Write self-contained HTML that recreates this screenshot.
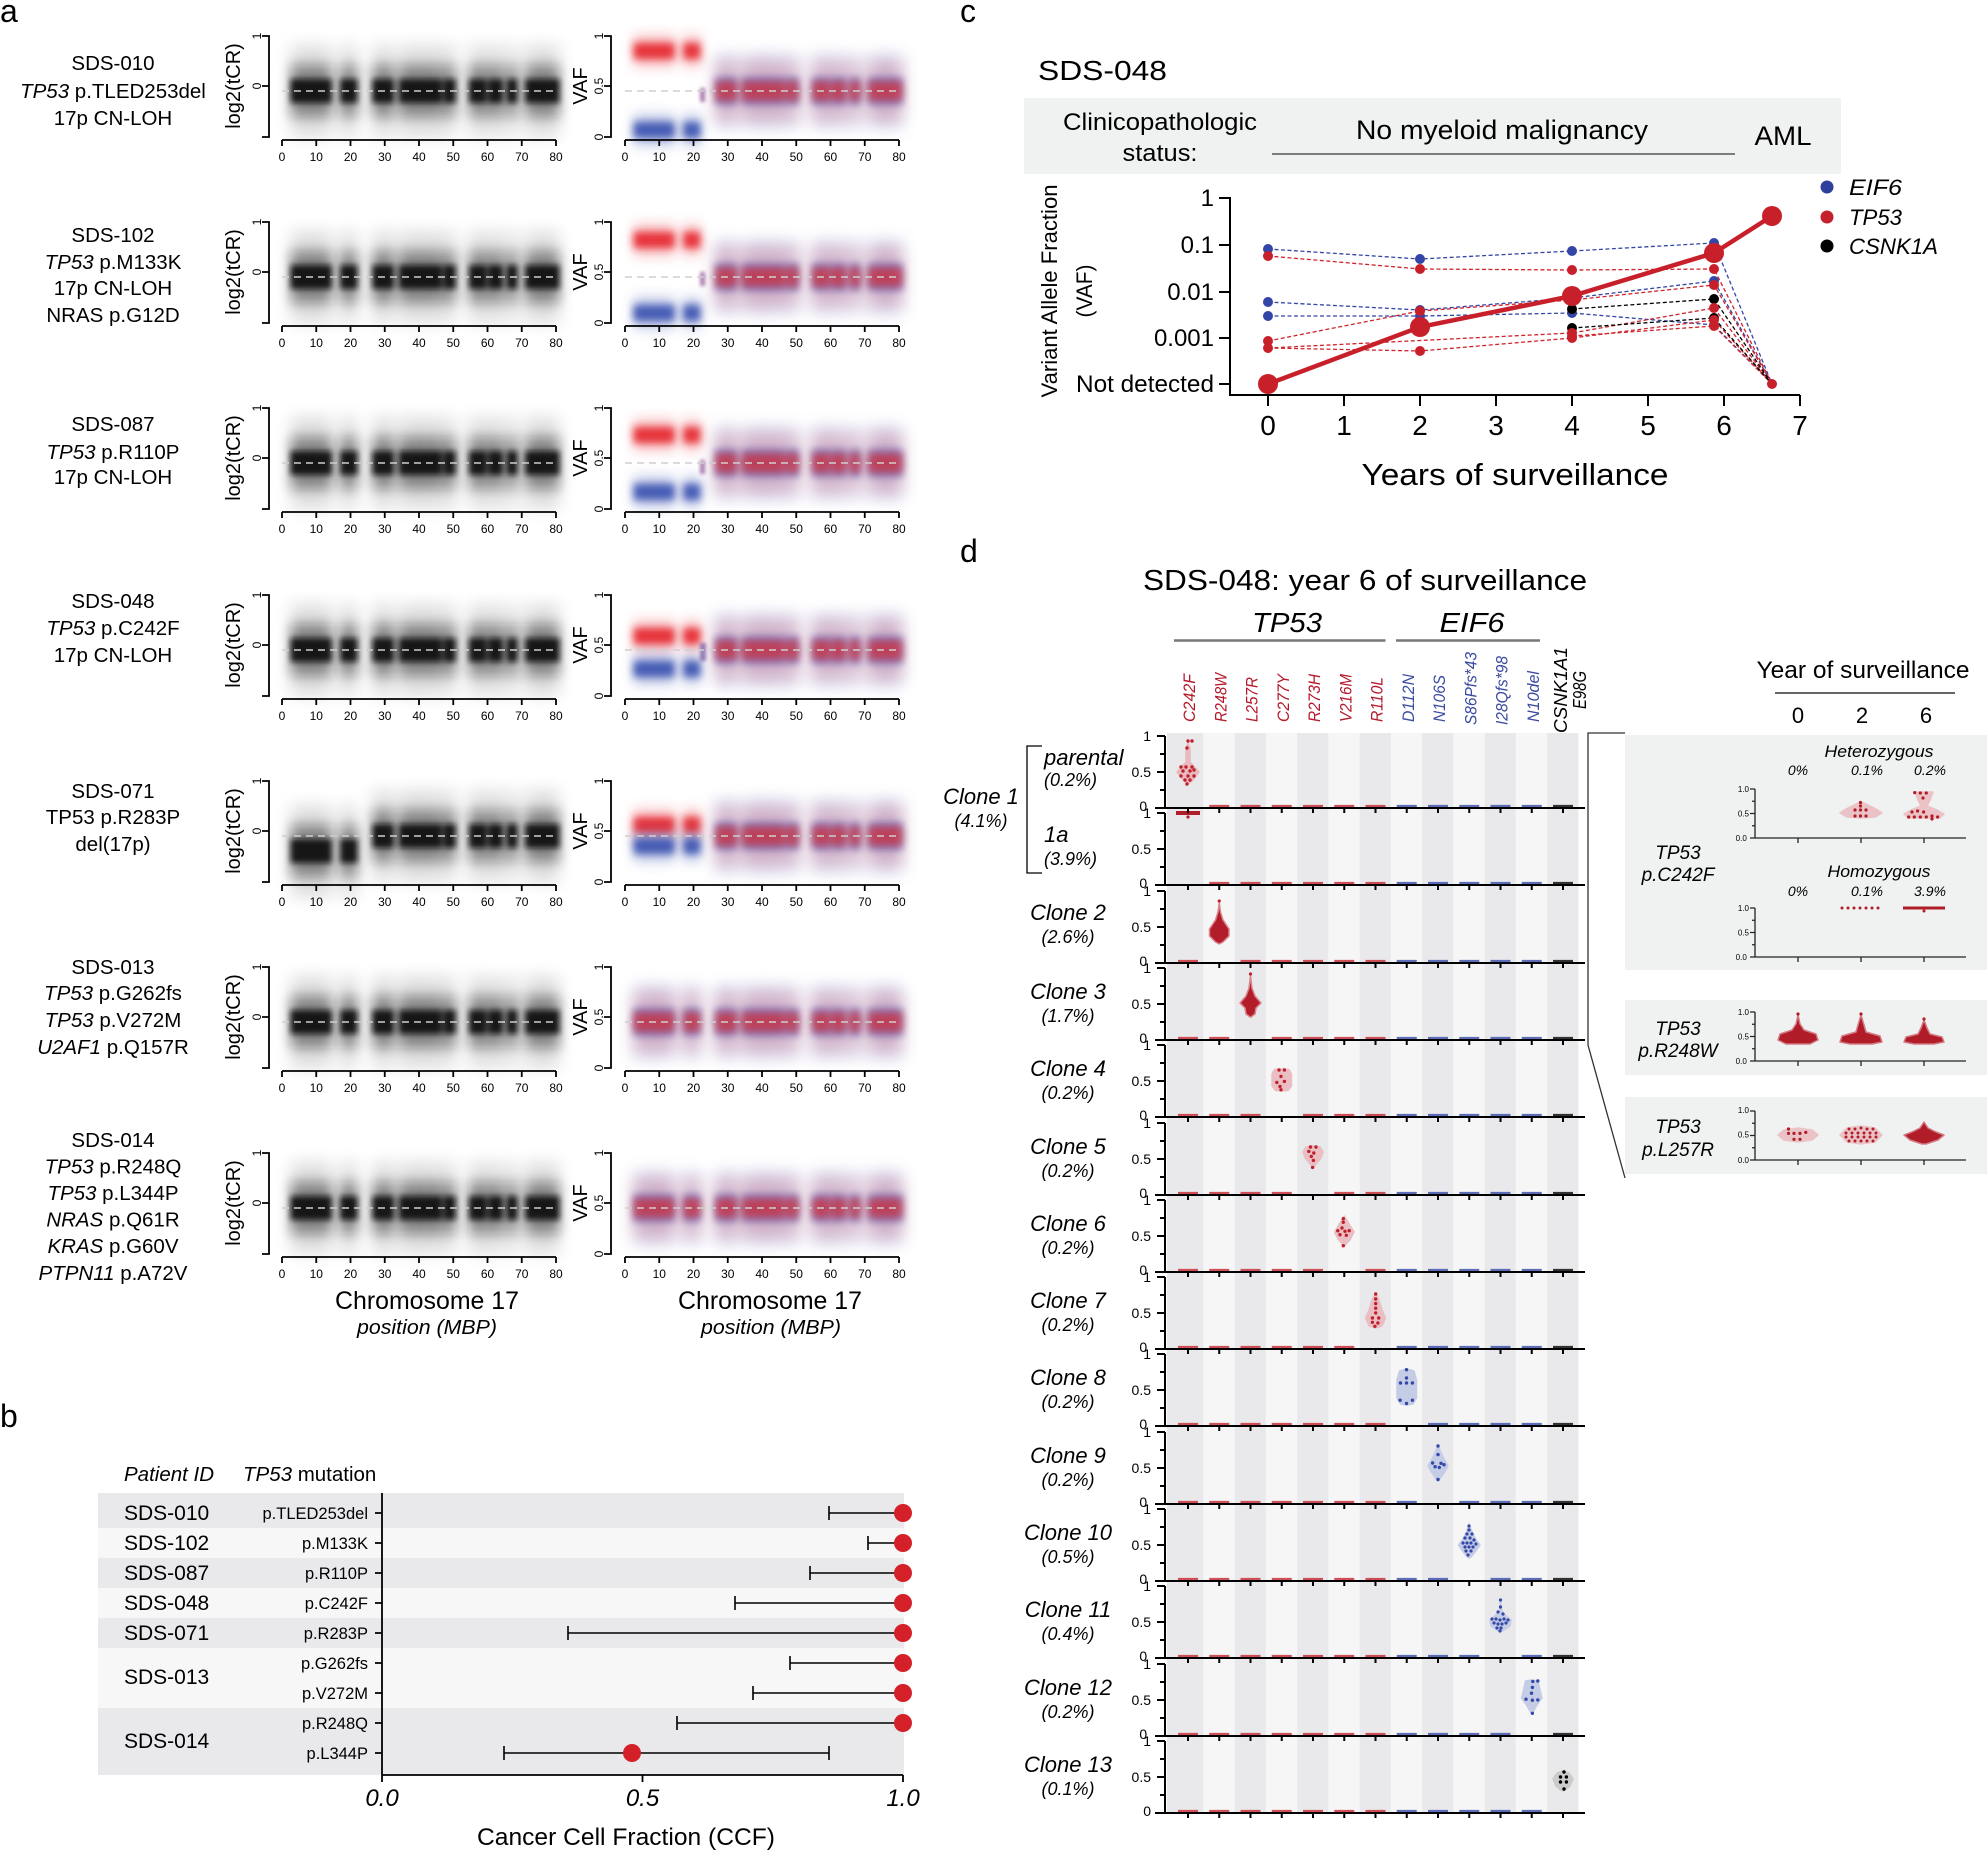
<!DOCTYPE html>
<html><head><meta charset="utf-8"><style>
body{margin:0;background:#fff}
svg{display:block;font-family:"Liberation Sans",Arial,sans-serif}
.m{text-anchor:middle}.e{text-anchor:end}.i{font-style:italic}
</style></head><body>
<svg width="1987" height="1851" viewBox="0 0 1987 1851" xmlns="http://www.w3.org/2000/svg">
<defs>
<filter id="b2" x="-50%" y="-150%" width="200%" height="400%"><feGaussianBlur stdDeviation="1.8"/></filter>
<filter id="b3" x="-50%" y="-150%" width="200%" height="400%"><feGaussianBlur stdDeviation="3"/></filter>
<filter id="b4" x="-50%" y="-150%" width="200%" height="400%"><feGaussianBlur stdDeviation="4"/></filter>
<filter id="b6" x="-50%" y="-150%" width="200%" height="400%"><feGaussianBlur stdDeviation="6"/></filter>
<filter id="b8" x="-50%" y="-150%" width="200%" height="400%"><feGaussianBlur stdDeviation="8"/></filter>
<g id="sP"><rect x="290.6" y="-1" width="41.1" height="2"/><rect x="340.2" y="-1" width="17.2" height="2"/></g>
<g id="sQ"><rect x="372.5" y="-1" width="21.5" height="2"/><rect x="398.9" y="-1" width="43.1" height="2"/><rect x="443.4" y="-1" width="12.3" height="2"/><rect x="469.1" y="-1" width="17.5" height="2"/><rect x="488.1" y="-1" width="14.8" height="2"/><rect x="506.5" y="-1" width="11" height="2"/><rect x="525.2" y="-1" width="34.2" height="2"/></g>
<g id="kP">
<g filter="url(#b8)" fill="#000" opacity=".13"><use href="#sP" transform="scale(1,46)"/></g>
<g filter="url(#b6)" fill="#111" opacity=".42"><use href="#sP" transform="scale(1,26)"/></g>
<g filter="url(#b3)" fill="#111" opacity=".92"><use href="#sP" transform="scale(1,12)"/></g>
</g>
<g id="kQ">
<g filter="url(#b8)" fill="#000" opacity=".13"><use href="#sQ" transform="scale(1,46)"/></g>
<g filter="url(#b6)" fill="#111" opacity=".42"><use href="#sQ" transform="scale(1,26)"/></g>
<g filter="url(#b3)" fill="#111" opacity=".92"><use href="#sQ" transform="scale(1,12)"/></g>
</g>
<g id="vQ">
<g filter="url(#b8)" fill="#4a5fc0" opacity=".25"><use href="#sQ" transform="scale(1,36)"/></g>
<g filter="url(#b8)" fill="#e0333a" opacity=".22"><use href="#sQ" transform="scale(1,30)"/></g>
<g filter="url(#b4)" fill="#4d5fbd" opacity=".62"><use href="#sQ" transform="scale(1,14)"/></g>
<g filter="url(#b4)" fill="#d8282f" opacity=".7"><use href="#sQ" transform="scale(1,10)"/></g>
</g>
<g id="vP">
<g filter="url(#b8)" fill="#4a5fc0" opacity=".25"><use href="#sP" transform="scale(1,36)"/></g>
<g filter="url(#b8)" fill="#e0333a" opacity=".22"><use href="#sP" transform="scale(1,30)"/></g>
<g filter="url(#b4)" fill="#4d5fbd" opacity=".62"><use href="#sP" transform="scale(1,14)"/></g>
<g filter="url(#b4)" fill="#d8282f" opacity=".7"><use href="#sP" transform="scale(1,10)"/></g>
</g>
<g id="rP">
<g filter="url(#b6)" fill="#e8323a" opacity=".3"><use href="#sP" transform="scale(1,16)"/></g>
<g filter="url(#b4)" fill="#e5262e" opacity=".92"><use href="#sP" transform="scale(1,8)"/></g>
</g>
<g id="uP">
<g filter="url(#b6)" fill="#3d55b3" opacity=".3"><use href="#sP" transform="scale(1,16)"/></g>
<g filter="url(#b4)" fill="#3a52b0" opacity=".92"><use href="#sP" transform="scale(1,8)"/></g>
</g>
<path id="axl" d="M262 0H269V101H262M262 50H269M282 104H556M282 104v6M316.25 104v6M350.5 104v6M384.75 104v6M419 104v6M453.25 104v6M487.5 104v6M521.75 104v6M556 104v6" fill="none" stroke="#000" stroke-width="1.8"/>
<path id="axr" d="M604 0H611V101H604M604 50H611M625 104H899M625 104v6M659.25 104v6M693.5 104v6M727.75 104v6M762 104v6M796.25 104v6M830.5 104v6M864.75 104v6M899 104v6" fill="none" stroke="#000" stroke-width="1.8"/>
<path id="dsh" d="M282 55H556M625 55H899" fill="none" stroke="#cfcfcf" stroke-width="1.5" stroke-dasharray="7 5"/>
<path id="dax" d="M1155 0H1585M1165 0V-72M1157 -72H1165M1157 -36H1165M1160 -54H1165M1160 -18H1165M1188 0v5M1219.25 0v5M1250.5 0v5M1281.75 0v5M1313 0v5M1344.25 0v5M1375.5 0v5M1406.75 0v5M1438 0v5M1469.25 0v5M1500.5 0v5M1531.75 0v5M1563 0v5" fill="none" stroke="#000" stroke-width="2"/>
<path id="max" d="M1755 0V-49M1750 -49H1755M1750 -24.5H1755M1750 0H1755M1752 -36.75H1755M1752 -12.25H1755M1755 0H1966M1798 0v5M1861 0v5M1924 0v5" fill="none" stroke="#222" stroke-width="1.3"/>
</defs>

<!-- panel labels -->
<text x="0" y="22" font-size="32">a</text>
<text x="0" y="1427" font-size="32">b</text>
<text x="960" y="22" font-size="32">c</text>
<text x="960" y="562" font-size="32">d</text>

<!-- ================= PANEL A ================= -->
<g font-size="20.5" class="m">
<text x="113" y="70">SDS-010</text>
<text x="113" y="98"><tspan class="i">TP53</tspan> p.TLED253del</text>
<text x="113" y="125">17p CN-LOH</text>
<text x="113" y="242">SDS-102</text>
<text x="113" y="269"><tspan class="i">TP53</tspan> p.M133K</text>
<text x="113" y="295">17p CN-LOH</text>
<text x="113" y="322">NRAS p.G12D</text>
<text x="113" y="431">SDS-087</text>
<text x="113" y="459"><tspan class="i">TP53</tspan> p.R110P</text>
<text x="113" y="484">17p CN-LOH</text>
<text x="113" y="608">SDS-048</text>
<text x="113" y="635"><tspan class="i">TP53</tspan> p.C242F</text>
<text x="113" y="662">17p CN-LOH</text>
<text x="113" y="798">SDS-071</text>
<text x="113" y="824">TP53 p.R283P</text>
<text x="113" y="851">del(17p)</text>
<text x="113" y="974">SDS-013</text>
<text x="113" y="1000"><tspan class="i">TP53</tspan> p.G262fs</text>
<text x="113" y="1027"><tspan class="i">TP53</tspan> p.V272M</text>
<text x="113" y="1054"><tspan class="i">U2AF1</tspan> p.Q157R</text>
<text x="113" y="1147">SDS-014</text>
<text x="113" y="1173.5"><tspan class="i">TP53</tspan> p.R248Q</text>
<text x="113" y="1200"><tspan class="i">TP53</tspan> p.L344P</text>
<text x="113" y="1226.5"><tspan class="i">NRAS</tspan> p.Q61R</text>
<text x="113" y="1253"><tspan class="i">KRAS</tspan> p.G60V</text>
<text x="113" y="1280"><tspan class="i">PTPN11</tspan> p.A72V</text>
</g>

<!-- Row 1 -->
<g transform="translate(0,36)">
<use href="#kP" y="55"/><use href="#kQ" y="55"/>
<use href="#vQ" x="343" y="55"/>
<use href="#rP" x="343" y="15"/><use href="#uP" x="343" y="94"/>
<rect x="700" y="52" width="5" height="14" fill="#8c4a90" opacity=".7" filter="url(#b2)"/>
<use href="#dsh"/><use href="#axl"/><use href="#axr"/>
<g font-size="12" class="m">
<text transform="translate(261,0) rotate(-90)">1</text><text transform="translate(261,50) rotate(-90)">0</text>
<text transform="translate(603,0) rotate(-90)">1</text><text transform="translate(603,50) rotate(-90)">0.5</text><text transform="translate(603,101) rotate(-90)">0</text>
<text y="125"><tspan x="282">0</tspan><tspan x="316.25">10</tspan><tspan x="350.5">20</tspan><tspan x="384.75">30</tspan><tspan x="419">40</tspan><tspan x="453.25">50</tspan><tspan x="487.5">60</tspan><tspan x="521.75">70</tspan><tspan x="556">80</tspan><tspan x="625">0</tspan><tspan x="659.25">10</tspan><tspan x="693.5">20</tspan><tspan x="727.75">30</tspan><tspan x="762">40</tspan><tspan x="796.25">50</tspan><tspan x="830.5">60</tspan><tspan x="864.75">70</tspan><tspan x="899">80</tspan></text>
</g>
<text transform="translate(240,50) rotate(-90)" font-size="20" class="m">log2(tCR)</text>
<text transform="translate(587,50) rotate(-90)" font-size="20" class="m">VAF</text>
</g>

<!-- Row 2 -->
<g transform="translate(0,222)">
<use href="#kP" y="55"/><use href="#kQ" y="55"/>
<use href="#vQ" x="343" y="55"/>
<use href="#rP" x="343" y="18"/><use href="#uP" x="343" y="91"/>
<rect x="700" y="50" width="5" height="14" fill="#8c4a90" opacity=".7" filter="url(#b2)"/>
<use href="#dsh"/><use href="#axl"/><use href="#axr"/>
<g font-size="12" class="m">
<text transform="translate(261,0) rotate(-90)">1</text><text transform="translate(261,50) rotate(-90)">0</text>
<text transform="translate(603,0) rotate(-90)">1</text><text transform="translate(603,50) rotate(-90)">0.5</text><text transform="translate(603,101) rotate(-90)">0</text>
<text y="125"><tspan x="282">0</tspan><tspan x="316.25">10</tspan><tspan x="350.5">20</tspan><tspan x="384.75">30</tspan><tspan x="419">40</tspan><tspan x="453.25">50</tspan><tspan x="487.5">60</tspan><tspan x="521.75">70</tspan><tspan x="556">80</tspan><tspan x="625">0</tspan><tspan x="659.25">10</tspan><tspan x="693.5">20</tspan><tspan x="727.75">30</tspan><tspan x="762">40</tspan><tspan x="796.25">50</tspan><tspan x="830.5">60</tspan><tspan x="864.75">70</tspan><tspan x="899">80</tspan></text>
</g>
<text transform="translate(240,50) rotate(-90)" font-size="20" class="m">log2(tCR)</text>
<text transform="translate(587,50) rotate(-90)" font-size="20" class="m">VAF</text>
</g>

<!-- Row 3 -->
<g transform="translate(0,408)">
<use href="#kP" y="55"/><use href="#kQ" y="55"/>
<use href="#vQ" x="343" y="55"/>
<use href="#rP" x="343" y="27"/><use href="#uP" x="343" y="84"/>
<rect x="700" y="52" width="5" height="14" fill="#8c4a90" opacity=".7" filter="url(#b2)"/>
<use href="#dsh"/><use href="#axl"/><use href="#axr"/>
<g font-size="12" class="m">
<text transform="translate(261,0) rotate(-90)">1</text><text transform="translate(261,50) rotate(-90)">0</text>
<text transform="translate(603,0) rotate(-90)">1</text><text transform="translate(603,50) rotate(-90)">0.5</text><text transform="translate(603,101) rotate(-90)">0</text>
<text y="125"><tspan x="282">0</tspan><tspan x="316.25">10</tspan><tspan x="350.5">20</tspan><tspan x="384.75">30</tspan><tspan x="419">40</tspan><tspan x="453.25">50</tspan><tspan x="487.5">60</tspan><tspan x="521.75">70</tspan><tspan x="556">80</tspan><tspan x="625">0</tspan><tspan x="659.25">10</tspan><tspan x="693.5">20</tspan><tspan x="727.75">30</tspan><tspan x="762">40</tspan><tspan x="796.25">50</tspan><tspan x="830.5">60</tspan><tspan x="864.75">70</tspan><tspan x="899">80</tspan></text>
</g>
<text transform="translate(240,50) rotate(-90)" font-size="20" class="m">log2(tCR)</text>
<text transform="translate(587,50) rotate(-90)" font-size="20" class="m">VAF</text>
</g>

<!-- Row 4 -->
<g transform="translate(0,595)">
<use href="#kP" y="55"/><use href="#kQ" y="55"/>
<use href="#vQ" x="343" y="55"/>
<use href="#rP" x="343" y="41"/><use href="#uP" x="343" y="74"/>
<rect x="700" y="48" width="6" height="18" fill="#6a4a9a" opacity=".7" filter="url(#b2)"/>
<use href="#dsh"/><use href="#axl"/><use href="#axr"/>
<g font-size="12" class="m">
<text transform="translate(261,0) rotate(-90)">1</text><text transform="translate(261,50) rotate(-90)">0</text>
<text transform="translate(603,0) rotate(-90)">1</text><text transform="translate(603,50) rotate(-90)">0.5</text><text transform="translate(603,101) rotate(-90)">0</text>
<text y="125"><tspan x="282">0</tspan><tspan x="316.25">10</tspan><tspan x="350.5">20</tspan><tspan x="384.75">30</tspan><tspan x="419">40</tspan><tspan x="453.25">50</tspan><tspan x="487.5">60</tspan><tspan x="521.75">70</tspan><tspan x="556">80</tspan><tspan x="625">0</tspan><tspan x="659.25">10</tspan><tspan x="693.5">20</tspan><tspan x="727.75">30</tspan><tspan x="762">40</tspan><tspan x="796.25">50</tspan><tspan x="830.5">60</tspan><tspan x="864.75">70</tspan><tspan x="899">80</tspan></text>
</g>
<text transform="translate(240,50) rotate(-90)" font-size="20" class="m">log2(tCR)</text>
<text transform="translate(587,50) rotate(-90)" font-size="20" class="m">VAF</text>
</g>

<!-- Row 5 -->
<g transform="translate(0,781)">
<use href="#kP" y="70"/><use href="#kQ" y="55"/>
<use href="#vQ" x="343" y="55"/>
<use href="#rP" x="343" y="44"/><use href="#uP" x="343" y="65"/>
<use href="#dsh"/><use href="#axl"/><use href="#axr"/>
<g font-size="12" class="m">
<text transform="translate(261,0) rotate(-90)">1</text><text transform="translate(261,50) rotate(-90)">0</text>
<text transform="translate(603,0) rotate(-90)">1</text><text transform="translate(603,50) rotate(-90)">0.5</text><text transform="translate(603,101) rotate(-90)">0</text>
<text y="125"><tspan x="282">0</tspan><tspan x="316.25">10</tspan><tspan x="350.5">20</tspan><tspan x="384.75">30</tspan><tspan x="419">40</tspan><tspan x="453.25">50</tspan><tspan x="487.5">60</tspan><tspan x="521.75">70</tspan><tspan x="556">80</tspan><tspan x="625">0</tspan><tspan x="659.25">10</tspan><tspan x="693.5">20</tspan><tspan x="727.75">30</tspan><tspan x="762">40</tspan><tspan x="796.25">50</tspan><tspan x="830.5">60</tspan><tspan x="864.75">70</tspan><tspan x="899">80</tspan></text>
</g>
<text transform="translate(240,50) rotate(-90)" font-size="20" class="m">log2(tCR)</text>
<text transform="translate(587,50) rotate(-90)" font-size="20" class="m">VAF</text>
</g>

<!-- Row 6 -->
<g transform="translate(0,967)">
<use href="#kP" y="55"/><use href="#kQ" y="55"/>
<use href="#vQ" x="343" y="55"/><use href="#vP" x="343" y="55"/>
<use href="#dsh"/><use href="#axl"/><use href="#axr"/>
<g font-size="12" class="m">
<text transform="translate(261,0) rotate(-90)">1</text><text transform="translate(261,50) rotate(-90)">0</text>
<text transform="translate(603,0) rotate(-90)">1</text><text transform="translate(603,50) rotate(-90)">0.5</text><text transform="translate(603,101) rotate(-90)">0</text>
<text y="125"><tspan x="282">0</tspan><tspan x="316.25">10</tspan><tspan x="350.5">20</tspan><tspan x="384.75">30</tspan><tspan x="419">40</tspan><tspan x="453.25">50</tspan><tspan x="487.5">60</tspan><tspan x="521.75">70</tspan><tspan x="556">80</tspan><tspan x="625">0</tspan><tspan x="659.25">10</tspan><tspan x="693.5">20</tspan><tspan x="727.75">30</tspan><tspan x="762">40</tspan><tspan x="796.25">50</tspan><tspan x="830.5">60</tspan><tspan x="864.75">70</tspan><tspan x="899">80</tspan></text>
</g>
<text transform="translate(240,50) rotate(-90)" font-size="20" class="m">log2(tCR)</text>
<text transform="translate(587,50) rotate(-90)" font-size="20" class="m">VAF</text>
</g>

<!-- Row 7 -->
<g transform="translate(0,1153)">
<use href="#kP" y="55"/><use href="#kQ" y="55"/>
<use href="#vQ" x="343" y="55"/><use href="#vP" x="343" y="55"/>
<use href="#dsh"/><use href="#axl"/><use href="#axr"/>
<g font-size="12" class="m">
<text transform="translate(261,0) rotate(-90)">1</text><text transform="translate(261,50) rotate(-90)">0</text>
<text transform="translate(603,0) rotate(-90)">1</text><text transform="translate(603,50) rotate(-90)">0.5</text><text transform="translate(603,101) rotate(-90)">0</text>
<text y="125"><tspan x="282">0</tspan><tspan x="316.25">10</tspan><tspan x="350.5">20</tspan><tspan x="384.75">30</tspan><tspan x="419">40</tspan><tspan x="453.25">50</tspan><tspan x="487.5">60</tspan><tspan x="521.75">70</tspan><tspan x="556">80</tspan><tspan x="625">0</tspan><tspan x="659.25">10</tspan><tspan x="693.5">20</tspan><tspan x="727.75">30</tspan><tspan x="762">40</tspan><tspan x="796.25">50</tspan><tspan x="830.5">60</tspan><tspan x="864.75">70</tspan><tspan x="899">80</tspan></text>
</g>
<text transform="translate(240,50) rotate(-90)" font-size="20" class="m">log2(tCR)</text>
<text transform="translate(587,50) rotate(-90)" font-size="20" class="m">VAF</text>
</g>

<text x="427" y="1309" font-size="25" class="m" textLength="184" lengthAdjust="spacingAndGlyphs">Chromosome 17</text>
<text x="770" y="1309" font-size="25" class="m" textLength="184" lengthAdjust="spacingAndGlyphs">Chromosome 17</text>
<text x="427" y="1334" font-size="20" class="m i" textLength="140" lengthAdjust="spacingAndGlyphs">position (MBP)</text>
<text x="771" y="1334" font-size="20" class="m i" textLength="140" lengthAdjust="spacingAndGlyphs">position (MBP)</text>

<!-- ================= PANEL B ================= -->
<rect x="98" y="1493" width="806" height="35" fill="#e9e9ec"/>
<rect x="98" y="1528" width="806" height="30" fill="#f7f7f7"/>
<rect x="98" y="1558" width="806" height="30" fill="#e9e9ec"/>
<rect x="98" y="1588" width="806" height="30" fill="#f7f7f7"/>
<rect x="98" y="1618" width="806" height="30" fill="#e9e9ec"/>
<rect x="98" y="1648" width="806" height="60" fill="#f7f7f7"/>
<rect x="98" y="1708" width="806" height="67" fill="#e9e9ec"/>
<text x="124" y="1481" font-size="20.5" class="i">Patient ID</text>
<text x="243" y="1481" font-size="20.5"><tspan class="i">TP53</tspan> mutation</text>
<g font-size="21">
<text x="124" y="1520">SDS-010</text>
<text x="124" y="1550">SDS-102</text>
<text x="124" y="1580">SDS-087</text>
<text x="124" y="1610">SDS-048</text>
<text x="124" y="1640">SDS-071</text>
<text x="124" y="1684">SDS-013</text>
<text x="124" y="1748">SDS-014</text>
</g>
<g font-size="16.5" class="e">
<text x="368" y="1519">p.TLED253del</text>
<text x="368" y="1549">p.M133K</text>
<text x="368" y="1579">p.R110P</text>
<text x="368" y="1609">p.C242F</text>
<text x="368" y="1639">p.R283P</text>
<text x="368" y="1669">p.G262fs</text>
<text x="368" y="1699">p.V272M</text>
<text x="368" y="1729">p.R248Q</text>
<text x="368" y="1759">p.L344P</text>
</g>
<path d="M382 1493V1775H903M375 1513H382M375 1543H382M375 1573H382M375 1603H382M375 1633H382M375 1663H382M375 1693H382M375 1723H382M375 1753H382M382 1775v7M642.5 1775v7M903 1775v7" fill="none" stroke="#000" stroke-width="1.8"/>
<path d="M829 1513H903M829 1506v14M868 1543H903M868 1536v14M810 1573H903M810 1566v14M735 1603H903M735 1596v14M568 1633H903M568 1626v14M790 1663H903M790 1656v14M753 1693H903M753 1686v14M677 1723H903M677 1716v14M504 1753H829M504 1746v14M829 1746v14" fill="none" stroke="#000" stroke-width="1.6"/>
<g fill="#d42029">
<circle cx="903" cy="1513" r="9"/><circle cx="903" cy="1543" r="9"/><circle cx="903" cy="1573" r="9"/><circle cx="903" cy="1603" r="9"/><circle cx="903" cy="1633" r="9"/><circle cx="903" cy="1663" r="9"/><circle cx="903" cy="1693" r="9"/><circle cx="903" cy="1723" r="9"/><circle cx="632" cy="1753" r="9"/>
</g>
<g font-size="24" class="m i">
<text x="382" y="1806">0.0</text><text x="642.5" y="1806">0.5</text><text x="903" y="1806">1.0</text>
</g>
<text x="626" y="1845" font-size="24.5" class="m" textLength="298" lengthAdjust="spacingAndGlyphs">Cancer Cell Fraction (CCF)</text>

<!-- ================= PANEL C ================= -->
<text x="1038" y="80" font-size="28" textLength="129" lengthAdjust="spacingAndGlyphs">SDS-048</text>
<rect x="1024" y="98" width="817" height="76" fill="#f0f2f1"/>
<text x="1160" y="130" font-size="24" class="m" textLength="194" lengthAdjust="spacingAndGlyphs">Clinicopathologic</text>
<text x="1160" y="161" font-size="24" class="m" textLength="75" lengthAdjust="spacingAndGlyphs">status:</text>
<text x="1502" y="139" font-size="27" class="m" textLength="292" lengthAdjust="spacingAndGlyphs">No myeloid malignancy</text>
<path d="M1272 154H1735" stroke="#555" stroke-width="1.5"/>
<text x="1783" y="145" font-size="27" class="m" textLength="57" lengthAdjust="spacingAndGlyphs">AML</text>
<path d="M1230 197V395H1800M1219 198H1230M1219 245H1230M1219 292H1230M1219 338H1230M1219 384H1230M1268 395v11M1344 395v11M1420 395v11M1496 395v11M1572 395v11M1648 395v11M1724 395v11M1800 395v11" fill="none" stroke="#000" stroke-width="2"/>
<g font-size="24" class="e">
<text x="1214" y="206">1</text><text x="1214" y="253">0.1</text><text x="1214" y="300">0.01</text><text x="1214" y="346">0.001</text><text x="1214" y="392" textLength="138" lengthAdjust="spacingAndGlyphs">Not detected</text>
</g>
<g font-size="28" class="m">
<text x="1268" y="435">0</text><text x="1344" y="435">1</text><text x="1420" y="435">2</text><text x="1496" y="435">3</text><text x="1572" y="435">4</text><text x="1648" y="435">5</text><text x="1724" y="435">6</text><text x="1800" y="435">7</text>
</g>
<text x="1515" y="485" font-size="31" class="m" textLength="307" lengthAdjust="spacingAndGlyphs">Years of surveillance</text>
<text transform="translate(1057,291) rotate(-90)" font-size="22" class="m" textLength="213" lengthAdjust="spacingAndGlyphs">Variant Allele Fraction</text>
<text transform="translate(1092,291) rotate(-90)" font-size="22" class="m" textLength="53" lengthAdjust="spacingAndGlyphs">(VAF)</text>
<circle cx="1827" cy="187" r="6.5" fill="#2f3f9e"/><circle cx="1827" cy="217" r="6.5" fill="#c4212d"/><circle cx="1827" cy="246" r="6.5" fill="#000"/>
<g font-size="22" class="i">
<text x="1849" y="195" textLength="53" lengthAdjust="spacingAndGlyphs">EIF6</text>
<text x="1849" y="225" textLength="53" lengthAdjust="spacingAndGlyphs">TP53</text>
<text x="1849" y="254" textLength="89" lengthAdjust="spacingAndGlyphs">CSNK1A</text>
</g>
<g fill="none" stroke-width="1.3" stroke-dasharray="4 2.5">
<path stroke="#3345a6" d="M1268 249L1420 259L1572 251L1714 243L1772 384M1268 302L1420 310L1572 298L1714 281L1772 384M1268 316L1420 316L1572 313L1714 325L1772 384"/>
<path stroke="#d0242c" d="M1268 256L1420 269L1572 270L1714 269L1772 384M1268 341L1420 311L1572 300L1714 285L1772 384M1268 348L1572 333L1714 308L1772 384M1268 348L1420 351L1572 338L1714 320L1772 384M1572 336L1714 326L1772 384"/>
<path stroke="#000" d="M1572 309L1714 299L1772 384M1572 328L1714 318L1772 384"/>
</g>
<g fill="#3345a6">
<circle cx="1268" cy="249" r="5"/><circle cx="1420" cy="259" r="5"/><circle cx="1572" cy="251" r="5"/><circle cx="1714" cy="243" r="5"/><circle cx="1268" cy="302" r="5"/><circle cx="1420" cy="310" r="5"/><circle cx="1572" cy="298" r="5"/><circle cx="1714" cy="281" r="5"/><circle cx="1268" cy="316" r="5"/><circle cx="1420" cy="316" r="5"/><circle cx="1572" cy="313" r="5"/><circle cx="1714" cy="325" r="5"/>
</g>
<g fill="#000"><circle cx="1572" cy="309" r="5"/><circle cx="1714" cy="299" r="5"/><circle cx="1572" cy="328" r="5"/><circle cx="1714" cy="318" r="5"/></g>
<g fill="#c8202b">
<circle cx="1268" cy="256" r="5"/><circle cx="1420" cy="269" r="5"/><circle cx="1572" cy="270" r="5"/><circle cx="1714" cy="269" r="5"/><circle cx="1268" cy="341" r="5"/><circle cx="1420" cy="311" r="5"/><circle cx="1572" cy="300" r="5"/><circle cx="1714" cy="285" r="5"/><circle cx="1268" cy="348" r="5"/><circle cx="1572" cy="333" r="5"/><circle cx="1714" cy="308" r="5"/><circle cx="1420" cy="351" r="5"/><circle cx="1572" cy="338" r="5"/><circle cx="1714" cy="320" r="5"/><circle cx="1572" cy="336" r="5"/><circle cx="1714" cy="326" r="5"/><circle cx="1772" cy="384" r="5"/>
</g>
<path d="M1268 384L1420 327L1572 296L1714 253L1772 216" fill="none" stroke="#c8202b" stroke-width="4.5"/>
<g fill="#c8202b"><circle cx="1268" cy="384" r="10"/><circle cx="1420" cy="327" r="10"/><circle cx="1572" cy="296" r="10"/><circle cx="1714" cy="253" r="10"/><circle cx="1772" cy="216" r="10"/></g>

<!-- ================= PANEL D ================= -->
<text x="1365" y="590" font-size="29" class="m" textLength="444" lengthAdjust="spacingAndGlyphs">SDS-048: year 6 of surveillance</text>
<text x="1287" y="632" font-size="28" class="m i" textLength="70" lengthAdjust="spacingAndGlyphs">TP53</text>
<text x="1472" y="632" font-size="28" class="m i" textLength="65" lengthAdjust="spacingAndGlyphs">EIF6</text>
<path d="M1174 640.5H1385.5M1396 640.5H1540" stroke="#777" stroke-width="2.5"/>
<g font-size="17" class="i" fill="#b5192b">
<text transform="translate(1195,722) rotate(-90)" textLength="48" lengthAdjust="spacingAndGlyphs">C242F</text>
<text transform="translate(1226.25,722) rotate(-90)" textLength="49" lengthAdjust="spacingAndGlyphs">R248W</text>
<text transform="translate(1257.5,722) rotate(-90)" textLength="45" lengthAdjust="spacingAndGlyphs">L257R</text>
<text transform="translate(1288.75,722) rotate(-90)" textLength="48" lengthAdjust="spacingAndGlyphs">C277Y</text>
<text transform="translate(1320,722) rotate(-90)" textLength="48" lengthAdjust="spacingAndGlyphs">R273H</text>
<text transform="translate(1351.25,722) rotate(-90)" textLength="48" lengthAdjust="spacingAndGlyphs">V216M</text>
<text transform="translate(1382.5,722) rotate(-90)" textLength="45" lengthAdjust="spacingAndGlyphs">R110L</text>
</g>
<g font-size="17" class="i" fill="#3a4aa0">
<text transform="translate(1413.75,722) rotate(-90)" textLength="48" lengthAdjust="spacingAndGlyphs">D112N</text>
<text transform="translate(1445,722) rotate(-90)" textLength="47" lengthAdjust="spacingAndGlyphs">N106S</text>
<text transform="translate(1476.25,725) rotate(-90)" textLength="73" lengthAdjust="spacingAndGlyphs">S86Pfs*43</text>
<text transform="translate(1507.5,725) rotate(-90)" textLength="69" lengthAdjust="spacingAndGlyphs">I28Qfs*98</text>
<text transform="translate(1538.75,722) rotate(-90)" textLength="51" lengthAdjust="spacingAndGlyphs">N10del</text>
</g>
<g font-size="18" class="i m">
<text transform="translate(1567,690) rotate(-90)" textLength="86" lengthAdjust="spacingAndGlyphs">CSNK1A1</text>
<text transform="translate(1586,690) rotate(-90)" textLength="38" lengthAdjust="spacingAndGlyphs">E98G</text>
</g>
<!-- bands -->
<g>
<rect x="1167" y="733" width="36.4" height="1080" fill="#e9e9ec"/>
<rect x="1203.4" y="733" width="31.25" height="1080" fill="#f6f6f6"/>
<rect x="1234.65" y="733" width="31.25" height="1080" fill="#e9e9ec"/>
<rect x="1265.9" y="733" width="31.25" height="1080" fill="#f6f6f6"/>
<rect x="1297.15" y="733" width="31.25" height="1080" fill="#e9e9ec"/>
<rect x="1328.4" y="733" width="31.25" height="1080" fill="#f6f6f6"/>
<rect x="1359.65" y="733" width="31.25" height="1080" fill="#e9e9ec"/>
<rect x="1390.9" y="733" width="31.25" height="1080" fill="#f6f6f6"/>
<rect x="1422.15" y="733" width="31.25" height="1080" fill="#e9e9ec"/>
<rect x="1453.4" y="733" width="31.25" height="1080" fill="#f6f6f6"/>
<rect x="1484.65" y="733" width="31.25" height="1080" fill="#e9e9ec"/>
<rect x="1515.9" y="733" width="31.25" height="1080" fill="#f6f6f6"/>
<rect x="1547.15" y="733" width="31.25" height="1080" fill="#e9e9ec"/>
</g>
<!-- violins -->
<g stroke-linejoin="round" stroke-width="1.5">
<polygon fill="#e8b9be" stroke="#e8b9be" points="1188,743 1190,748 1190,762 1199,772 1192,781 1188,784 1184,781 1177,772 1186,762 1186,748"/>
<polygon fill="#b31d2a" stroke="#d9848d" points="1219.25,903 1220.5,912 1223,920 1229,929 1229,936 1223,942 1219.25,944 1215.5,942 1209.5,936 1209.5,929 1215.5,920 1218,912"/>
<polygon fill="#b31d2a" stroke="#d9848d" points="1250.5,976 1252,988 1255,996 1261,1003 1256,1008 1255,1014 1251,1017 1250,1017 1246,1014 1245,1008 1240,1003 1246,996 1249,988"/>
<polygon fill="#e9bfc4" stroke="#e9bfc4" points="1281.75,1069 1289,1069.5 1291.5,1074 1291.5,1086 1288,1090.5 1281.75,1091 1275.5,1090.5 1272,1086 1272,1074 1274.5,1069.5"/>
<polygon fill="#e9bfc4" stroke="#e9bfc4" points="1313,1146 1320,1147 1323,1152 1321,1158 1316,1164 1313,1168 1310,1164 1305,1158 1303,1152 1306,1147"/>
<polygon fill="#e9bfc4" stroke="#e9bfc4" points="1344.25,1216 1348,1222 1354,1232 1350,1240 1344.25,1246 1338.5,1240 1334.5,1232 1340.5,1222"/>
<polygon fill="#e9bfc4" stroke="#e9bfc4" points="1375.5,1293 1379,1300 1382,1310 1385.5,1318 1382,1326 1375.5,1328 1369,1326 1365.5,1318 1369,1310 1372,1300"/>
<polygon fill="#c5cce5" stroke="#c5cce5" points="1406.75,1369 1414,1371 1416.5,1380 1416.5,1398 1413,1404 1406.75,1405 1400.5,1404 1397,1398 1397,1380 1399.5,1371"/>
<polygon fill="#c5cce5" stroke="#c5cce5" points="1438,1445.5 1441,1453 1444,1459 1448,1466 1444,1473 1439,1480 1438,1481 1437,1480 1432,1473 1428,1466 1432,1459 1435,1453"/>
<polygon fill="#c5cce5" stroke="#c5cce5" points="1469.25,1524 1472,1532 1476,1540 1480,1545 1476,1551 1471,1557 1469.25,1558 1467.5,1557 1462.5,1551 1458.5,1545 1462.5,1540 1466.5,1532"/>
<polygon fill="#c5cce5" stroke="#c5cce5" points="1500.5,1600 1501.5,1610 1504,1614 1511,1620 1510,1626 1504,1630 1500.5,1631.5 1497,1630 1491,1626 1490,1620 1497,1614 1499.5,1610"/>
<polygon fill="#c5cce5" stroke="#c5cce5" points="1531.75,1680 1538,1681 1540,1690 1542,1698 1537,1705 1533,1712 1531.75,1714 1530.5,1712 1526.5,1705 1521.5,1698 1523.5,1690 1525.5,1681"/>
<polygon fill="#cbcbcb" stroke="#cbcbcb" points="1563,1771 1569,1773 1573,1779 1570,1786 1565,1790 1563,1791 1561,1790 1556,1786 1553,1779 1557,1773"/>
</g>
<rect x="1176" y="811" width="24" height="4" fill="#b01c27"/>
<circle cx="1188" cy="817" r="1.6" fill="#b01c27"/>
<g fill="#c0202c">
<circle cx="1188" cy="741" r="1.7"/><circle cx="1192" cy="741" r="1.7"/><circle cx="1187" cy="748" r="1.7"/><circle cx="1181" cy="767" r="1.7"/><circle cx="1186" cy="767" r="1.7"/><circle cx="1192" cy="767" r="1.7"/><circle cx="1183" cy="771" r="1.7"/><circle cx="1190" cy="771" r="1.7"/><circle cx="1194" cy="770" r="1.7"/><circle cx="1181" cy="776" r="1.7"/><circle cx="1188" cy="776" r="1.7"/><circle cx="1194" cy="776" r="1.7"/><circle cx="1185" cy="780" r="1.7"/><circle cx="1190" cy="780" r="1.7"/><circle cx="1187" cy="784" r="1.7"/>
<circle cx="1219.25" cy="901" r="1.6"/><circle cx="1250.5" cy="974" r="1.6"/>
<circle cx="1279" cy="1070" r="1.7"/><circle cx="1284.4" cy="1070" r="1.7"/><circle cx="1281" cy="1076.4" r="1.7"/><circle cx="1276.8" cy="1082.4" r="1.7"/><circle cx="1284.4" cy="1081.4" r="1.7"/><circle cx="1280" cy="1086.5" r="1.7"/><circle cx="1281" cy="1089.8" r="1.7"/>
<circle cx="1310.5" cy="1147" r="1.7"/><circle cx="1316" cy="1147" r="1.7"/><circle cx="1308.8" cy="1151.4" r="1.7"/><circle cx="1313.8" cy="1153" r="1.7"/><circle cx="1311.3" cy="1156.4" r="1.7"/><circle cx="1313.4" cy="1160.4" r="1.7"/><circle cx="1312.6" cy="1167.4" r="1.7"/>
<circle cx="1343.3" cy="1218.7" r="1.7"/><circle cx="1343.3" cy="1222.3" r="1.7"/><circle cx="1342" cy="1228" r="1.7"/><circle cx="1337.8" cy="1230.7" r="1.7"/><circle cx="1345" cy="1231.3" r="1.7"/><circle cx="1349.2" cy="1230.7" r="1.7"/><circle cx="1340" cy="1234.7" r="1.7"/><circle cx="1346.3" cy="1235.3" r="1.7"/><circle cx="1343.3" cy="1245.7" r="1.7"/>
<circle cx="1375.7" cy="1294" r="1.7"/><circle cx="1375.7" cy="1299" r="1.7"/><circle cx="1375.7" cy="1303.6" r="1.7"/><circle cx="1375.7" cy="1308.2" r="1.7"/><circle cx="1375.7" cy="1312.9" r="1.7"/><circle cx="1372.4" cy="1318" r="1.7"/><circle cx="1378.7" cy="1318" r="1.7"/><circle cx="1372.4" cy="1322.3" r="1.7"/><circle cx="1377.9" cy="1323" r="1.7"/><circle cx="1374.9" cy="1326.3" r="1.7"/>
</g>
<g fill="#3448a8">
<circle cx="1406.5" cy="1369.7" r="1.7"/><circle cx="1406.5" cy="1378" r="1.7"/><circle cx="1400.5" cy="1383" r="1.7"/><circle cx="1406.5" cy="1383" r="1.7"/><circle cx="1412.4" cy="1383" r="1.7"/><circle cx="1400.1" cy="1400.2" r="1.7"/><circle cx="1406.5" cy="1403.5" r="1.7"/><circle cx="1412.4" cy="1400.2" r="1.7"/>
<circle cx="1438" cy="1446" r="1.7"/><circle cx="1438" cy="1454.6" r="1.7"/><circle cx="1432.6" cy="1463" r="1.7"/><circle cx="1441" cy="1463.3" r="1.7"/><circle cx="1444" cy="1464.7" r="1.7"/><circle cx="1435.1" cy="1466.7" r="1.7"/><circle cx="1439.3" cy="1467.4" r="1.7"/><circle cx="1438" cy="1479.5" r="1.7"/>
<circle cx="1469" cy="1526" r="1.6"/><circle cx="1469" cy="1530" r="1.6"/><circle cx="1467" cy="1534" r="1.6"/><circle cx="1472" cy="1534" r="1.6"/><circle cx="1465" cy="1538" r="1.6"/><circle cx="1470" cy="1538" r="1.6"/><circle cx="1474" cy="1540" r="1.6"/><circle cx="1463" cy="1543" r="1.6"/><circle cx="1467" cy="1543" r="1.6"/><circle cx="1471" cy="1543" r="1.6"/><circle cx="1476" cy="1544" r="1.6"/><circle cx="1465" cy="1547" r="1.6"/><circle cx="1469" cy="1547" r="1.6"/><circle cx="1473" cy="1547" r="1.6"/><circle cx="1466" cy="1551" r="1.6"/><circle cx="1471" cy="1551" r="1.6"/><circle cx="1468" cy="1555" r="1.6"/>
<circle cx="1500.5" cy="1600" r="1.6"/><circle cx="1500.5" cy="1607" r="1.6"/><circle cx="1498" cy="1612" r="1.6"/><circle cx="1503" cy="1614" r="1.6"/><circle cx="1492" cy="1619" r="1.6"/><circle cx="1496" cy="1619" r="1.6"/><circle cx="1500" cy="1620" r="1.6"/><circle cx="1504" cy="1619" r="1.6"/><circle cx="1508" cy="1620" r="1.6"/><circle cx="1494" cy="1623" r="1.6"/><circle cx="1498" cy="1624" r="1.6"/><circle cx="1502" cy="1624" r="1.6"/><circle cx="1506" cy="1623" r="1.6"/><circle cx="1497" cy="1628" r="1.6"/><circle cx="1501" cy="1628" r="1.6"/><circle cx="1500" cy="1631" r="1.6"/>
<circle cx="1532.8" cy="1681.4" r="1.7"/><circle cx="1537.8" cy="1681" r="1.7"/><circle cx="1532.4" cy="1687.4" r="1.7"/><circle cx="1531.5" cy="1693.2" r="1.7"/><circle cx="1526" cy="1699.2" r="1.7"/><circle cx="1532.4" cy="1700.2" r="1.7"/><circle cx="1537.8" cy="1699.9" r="1.7"/><circle cx="1532.4" cy="1713.3" r="1.7"/>
</g>
<g fill="#000"><circle cx="1564" cy="1772" r="1.7"/><circle cx="1560.5" cy="1777" r="1.7"/><circle cx="1566.4" cy="1777" r="1.7"/><circle cx="1560.5" cy="1782" r="1.7"/><circle cx="1566.4" cy="1782" r="1.7"/><circle cx="1564" cy="1789" r="1.7"/></g>
<!-- zero dots -->
<g fill="none" stroke-width="2.2" stroke-dasharray="20 11.25" opacity=".85">
<path stroke="#c8333b" d="M1209.25 806H1385.5M1209.25 883H1385.5M1178 961H1198M1240.5 961H1385.5M1178 1038H1229.25M1271.75 1038H1385.5M1178 1115H1260.5M1303 1115H1385.5M1178 1193H1291.75M1334.25 1193H1385.5M1178 1270H1323M1365.5 1270H1385.5M1178 1347H1354.25M1178 1424H1385.5M1178 1502H1385.5M1178 1579H1385.5M1178 1656H1385.5M1178 1734H1385.5M1178 1811H1385.5"/>
<path stroke="#4256ad" d="M1396.75 806H1541.75M1396.75 883H1541.75M1396.75 961H1541.75M1396.75 1038H1541.75M1396.75 1115H1541.75M1396.75 1193H1541.75M1396.75 1270H1541.75M1396.75 1347H1541.75M1428 1424H1541.75M1396.75 1502H1416.75M1459.25 1502H1541.75M1396.75 1579H1448M1490.5 1579H1541.75M1396.75 1656H1479.25M1521.75 1656H1541.75M1396.75 1734H1510.5M1396.75 1811H1541.75"/>
<path stroke="#111" d="M1553 806H1573M1553 883H1573M1553 961H1573M1553 1038H1573M1553 1115H1573M1553 1193H1573M1553 1270H1573M1553 1347H1573M1553 1424H1573M1553 1502H1573M1553 1579H1573M1553 1656H1573M1553 1734H1573"/>
</g>
<!-- axes -->
<use href="#dax" y="808"/><use href="#dax" y="885"/><use href="#dax" y="963"/><use href="#dax" y="1040"/><use href="#dax" y="1117"/><use href="#dax" y="1195"/><use href="#dax" y="1272"/><use href="#dax" y="1349"/><use href="#dax" y="1426"/><use href="#dax" y="1504"/><use href="#dax" y="1581"/><use href="#dax" y="1658"/><use href="#dax" y="1736"/><use href="#dax" y="1813"/>
<text font-size="14" class="e">
<tspan x="1151" y="741">1</tspan><tspan x="1151" y="777">0.5</tspan><tspan x="1151" y="811">0</tspan>
<tspan x="1151" y="818">1</tspan><tspan x="1151" y="854">0.5</tspan><tspan x="1151" y="888">0</tspan>
<tspan x="1151" y="896">1</tspan><tspan x="1151" y="932">0.5</tspan><tspan x="1151" y="966">0</tspan>
<tspan x="1151" y="973">1</tspan><tspan x="1151" y="1009">0.5</tspan><tspan x="1151" y="1043">0</tspan>
<tspan x="1151" y="1050">1</tspan><tspan x="1151" y="1086">0.5</tspan><tspan x="1151" y="1120">0</tspan>
<tspan x="1151" y="1128">1</tspan><tspan x="1151" y="1164">0.5</tspan><tspan x="1151" y="1198">0</tspan>
<tspan x="1151" y="1205">1</tspan><tspan x="1151" y="1241">0.5</tspan><tspan x="1151" y="1275">0</tspan>
<tspan x="1151" y="1282">1</tspan><tspan x="1151" y="1318">0.5</tspan><tspan x="1151" y="1352">0</tspan>
<tspan x="1151" y="1359">1</tspan><tspan x="1151" y="1395">0.5</tspan><tspan x="1151" y="1429">0</tspan>
<tspan x="1151" y="1437">1</tspan><tspan x="1151" y="1473">0.5</tspan><tspan x="1151" y="1507">0</tspan>
<tspan x="1151" y="1514">1</tspan><tspan x="1151" y="1550">0.5</tspan><tspan x="1151" y="1584">0</tspan>
<tspan x="1151" y="1591">1</tspan><tspan x="1151" y="1627">0.5</tspan><tspan x="1151" y="1661">0</tspan>
<tspan x="1151" y="1669">1</tspan><tspan x="1151" y="1705">0.5</tspan><tspan x="1151" y="1739">0</tspan>
<tspan x="1151" y="1746">1</tspan><tspan x="1151" y="1782">0.5</tspan><tspan x="1151" y="1816">0</tspan>
</text>
<!-- row labels -->
<path d="M1042 746H1027V873H1042" fill="none" stroke="#000" stroke-width="1.3"/>
<text x="981" y="804" font-size="22" class="m i">Clone 1</text>
<text x="981" y="827" font-size="18" class="m i">(4.1%)</text>
<text x="1044" y="765" font-size="22" class="i">parental</text>
<text x="1044" y="786" font-size="18" class="i">(0.2%)</text>
<text x="1044" y="842" font-size="22" class="i">1a</text>
<text x="1044" y="865" font-size="18" class="i">(3.9%)</text>
<g class="m i" font-size="22">
<text x="1068" y="920">Clone 2</text><text x="1068" y="999">Clone 3</text><text x="1068" y="1076">Clone 4</text><text x="1068" y="1154">Clone 5</text><text x="1068" y="1231">Clone 6</text><text x="1068" y="1308">Clone 7</text><text x="1068" y="1385">Clone 8</text><text x="1068" y="1463">Clone 9</text><text x="1068" y="1540">Clone 10</text><text x="1068" y="1617">Clone 11</text><text x="1068" y="1695">Clone 12</text><text x="1068" y="1772">Clone 13</text>
</g>
<g class="m i" font-size="18">
<text x="1068" y="943">(2.6%)</text><text x="1068" y="1022">(1.7%)</text><text x="1068" y="1099">(0.2%)</text><text x="1068" y="1177">(0.2%)</text><text x="1068" y="1254">(0.2%)</text><text x="1068" y="1331">(0.2%)</text><text x="1068" y="1408">(0.2%)</text><text x="1068" y="1486">(0.2%)</text><text x="1068" y="1563">(0.5%)</text><text x="1068" y="1640">(0.4%)</text><text x="1068" y="1718">(0.2%)</text><text x="1068" y="1795">(0.1%)</text>
</g>

<!-- inset -->
<path d="M1625 733H1588V1045L1625 1178" fill="none" stroke="#333" stroke-width="1.3"/>
<rect x="1625" y="735" width="362" height="235" fill="#f0f2f1"/>
<rect x="1625" y="1000" width="362" height="75" fill="#f0f2f1"/>
<rect x="1625" y="1097" width="362" height="77" fill="#f0f2f1"/>
<text x="1863" y="678" font-size="24" class="m" textLength="213" lengthAdjust="spacingAndGlyphs">Year of surveillance</text>
<path d="M1775 693H1955" stroke="#333" stroke-width="1.5"/>
<g font-size="22" class="m"><text x="1798" y="723">0</text><text x="1862" y="723">2</text><text x="1926" y="723">6</text></g>
<text x="1879" y="757" font-size="16.5" class="m i" textLength="109" lengthAdjust="spacingAndGlyphs">Heterozygous</text>
<g font-size="14" class="m i"><text x="1798" y="775">0%</text><text x="1867" y="775">0.1%</text><text x="1930" y="775">0.2%</text></g>
<text x="1879" y="877" font-size="16.5" class="m i" textLength="103" lengthAdjust="spacingAndGlyphs">Homozygous</text>
<g font-size="14" class="m i"><text x="1798" y="896">0%</text><text x="1867" y="896">0.1%</text><text x="1930" y="896">3.9%</text></g>
<g font-size="19" class="m i">
<text x="1678" y="859">TP53</text><text x="1678" y="881">p.C242F</text>
<text x="1678" y="1035">TP53</text><text x="1678" y="1057">p.R248W</text>
<text x="1678" y="1133">TP53</text><text x="1678" y="1156">p.L257R</text>
</g>
<use href="#max" y="838"/><use href="#max" y="957"/><use href="#max" y="1061"/><use href="#max" y="1160"/>
<text font-size="8" class="e">
<tspan x="1749" y="792">1.0</tspan><tspan x="1749" y="816.5">0.5</tspan><tspan x="1749" y="841">0.0</tspan>
<tspan x="1749" y="911">1.0</tspan><tspan x="1749" y="935.5">0.5</tspan><tspan x="1749" y="960">0.0</tspan>
<tspan x="1749" y="1015">1.0</tspan><tspan x="1749" y="1039.5">0.5</tspan><tspan x="1749" y="1064">0.0</tspan>
<tspan x="1749" y="1113">1.0</tspan><tspan x="1749" y="1137.5">0.5</tspan><tspan x="1749" y="1163">0.0</tspan>
</text>
<g stroke-linejoin="round" stroke-width="1.5">
<polygon fill="#ebc3c7" stroke="#ebc3c7" points="1861,802 1866,804 1876,809 1882,813 1875,817 1861,818 1847,817 1840,813 1846,809 1856,804"/>
<polygon fill="#ebc3c7" stroke="#ebc3c7" points="1915,792 1933,792 1930,800 1927,806 1937,810 1944,814 1940,818 1908,818 1904,814 1911,810 1921,806 1918,800"/>
<polygon fill="#b01c27" stroke="#d47a84" points="1798,1015 1800,1024 1804,1030 1816,1034 1818,1040 1810,1044 1786,1044 1778,1040 1780,1034 1792,1030 1796,1024"/>
<polygon fill="#b01c27" stroke="#d47a84" points="1861,1015 1864,1025 1866,1032 1880,1036 1882,1042 1872,1044 1850,1044 1840,1042 1842,1036 1856,1032 1858,1025"/>
<polygon fill="#b01c27" stroke="#d47a84" points="1924,1020 1927,1028 1930,1034 1942,1037 1944,1042 1934,1044 1914,1044 1904,1042 1906,1037 1918,1034 1921,1028"/>
<polygon fill="#ebc3c7" stroke="#ebc3c7" points="1798,1128 1812,1130 1818,1135 1812,1140 1798,1142 1784,1140 1778,1135 1784,1130"/>
<polygon fill="#ebc3c7" stroke="#ebc3c7" points="1861,1126 1875,1128 1882,1135 1875,1142 1861,1144 1847,1142 1840,1135 1847,1128"/>
<polygon fill="#b01c27" stroke="#d47a84" points="1924,1122 1928,1128 1936,1132 1944,1135 1938,1140 1926,1144 1922,1144 1910,1140 1904,1135 1912,1132 1920,1128"/>
</g>
<rect x="1903" y="906.5" width="42" height="3" fill="#b01c27"/>
<circle cx="1924" cy="911" r="1.5" fill="#b01c27"/>
<g fill="#b01c27">
<circle cx="1860.5" cy="802.5" r="1.6"/><circle cx="1860.5" cy="806" r="1.6"/><circle cx="1855" cy="810" r="1.6"/><circle cx="1860.5" cy="810" r="1.6"/><circle cx="1866" cy="810" r="1.6"/><circle cx="1855" cy="816" r="1.6"/><circle cx="1860.5" cy="816" r="1.6"/><circle cx="1866" cy="816" r="1.6"/>
<circle cx="1914.7" cy="792.6" r="1.6"/><circle cx="1920.3" cy="793" r="1.6"/><circle cx="1926.3" cy="793" r="1.6"/><circle cx="1923" cy="798" r="1.6"/><circle cx="1912" cy="812" r="1.6"/><circle cx="1917.6" cy="811" r="1.6"/><circle cx="1923.6" cy="812" r="1.6"/><circle cx="1908.7" cy="817" r="1.6"/><circle cx="1914.3" cy="817" r="1.6"/><circle cx="1920.3" cy="817" r="1.6"/><circle cx="1926.3" cy="817" r="1.6"/><circle cx="1932" cy="816" r="1.6"/><circle cx="1937.6" cy="817" r="1.6"/><circle cx="1932" cy="819" r="1.6"/>
<circle cx="1842" cy="908" r="1.5"/><circle cx="1848" cy="908" r="1.5"/><circle cx="1854" cy="908" r="1.5"/><circle cx="1860" cy="908" r="1.5"/><circle cx="1866" cy="908" r="1.5"/><circle cx="1872" cy="908" r="1.5"/><circle cx="1878" cy="908" r="1.5"/>
<circle cx="1798" cy="1014" r="1.6"/><circle cx="1861" cy="1014" r="1.6"/><circle cx="1924" cy="1019" r="1.6"/>
<circle cx="1788.5" cy="1129" r="1.6"/><circle cx="1788.5" cy="1133.4" r="1.6"/><circle cx="1794" cy="1133.4" r="1.6"/><circle cx="1800" cy="1133.4" r="1.6"/><circle cx="1805.8" cy="1132.4" r="1.6"/><circle cx="1794" cy="1139.3" r="1.6"/><circle cx="1800" cy="1139.3" r="1.6"/>
<circle cx="1849" cy="1129" r="1.5"/><circle cx="1855" cy="1129" r="1.5"/><circle cx="1861" cy="1128" r="1.5"/><circle cx="1867" cy="1129" r="1.5"/><circle cx="1873" cy="1129" r="1.5"/>
<circle cx="1846" cy="1133" r="1.5"/><circle cx="1852" cy="1133" r="1.5"/><circle cx="1858" cy="1133" r="1.5"/><circle cx="1864" cy="1133" r="1.5"/><circle cx="1870" cy="1133" r="1.5"/><circle cx="1876" cy="1133" r="1.5"/>
<circle cx="1846" cy="1137" r="1.5"/><circle cx="1852" cy="1137" r="1.5"/><circle cx="1858" cy="1137" r="1.5"/><circle cx="1864" cy="1137" r="1.5"/><circle cx="1870" cy="1137" r="1.5"/><circle cx="1876" cy="1137" r="1.5"/>
<circle cx="1849" cy="1141" r="1.5"/><circle cx="1855" cy="1141" r="1.5"/><circle cx="1861" cy="1141" r="1.5"/><circle cx="1867" cy="1141" r="1.5"/><circle cx="1873" cy="1141" r="1.5"/>
</g>
</svg>
</body></html>
